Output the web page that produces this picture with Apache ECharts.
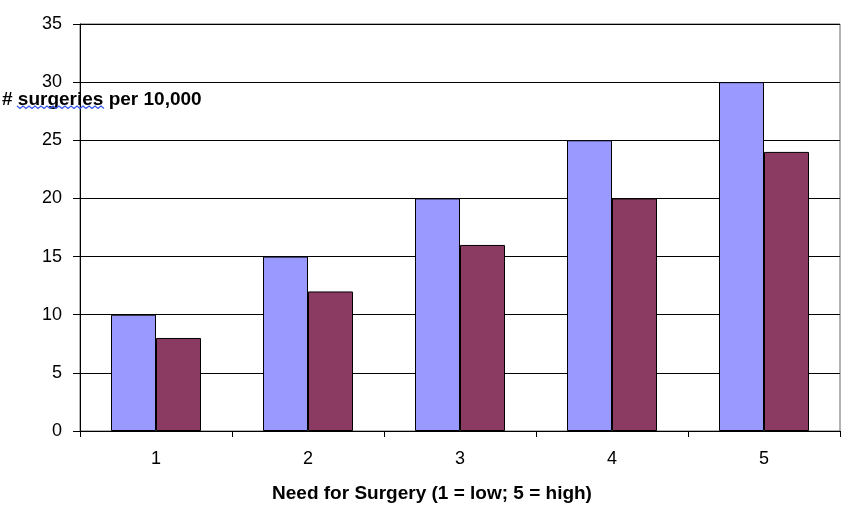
<!DOCTYPE html>
<html>
<head>
<meta charset="utf-8">
<script src="https://cdn.jsdelivr.net/npm/echarts@6/dist/echarts.min.js"></script>
<style>html,body{margin:0;padding:0;background:#fff}#c{width:850px;height:512px}</style>
</head>
<body>
<div id="c"></div>
<script>
var categories = ['1', '2', '3', '4', '5'];
var seriesA = [10, 15, 20, 25, 30];
var seriesB = [8, 12, 16, 20, 24];
var yTicks = { min: 0, max: 35, interval: 5 };

var chart = echarts.init(document.getElementById('c'), null, { renderer: 'canvas' });
var font = 'Liberation Sans, Arial, sans-serif';
chart.setOption({
  animation: false,
  backgroundColor: '#fff',
  title: {
    text: '# surgeries per 10,000',
    left: 2, top: 90, padding: 0,
    textStyle: { fontFamily: font, fontSize: 19, fontWeight: 'bold', color: '#000' }
  },
  grid: { left: 80, right: 10, top: 24, bottom: 81, show: true, borderColor: '#666', borderWidth: 1, backgroundColor: 'transparent', outerBoundsMode: 'none', containLabel: false },
  xAxis: {
    type: 'category',
    data: categories,
    name: 'Need for Surgery (1 = low; 5 = high)',
    nameLocation: 'middle',
    nameGap: 53,
    nameTextStyle: { fontFamily: font, fontSize: 19, fontWeight: 'bold', color: '#000', padding: [0, 56, 0, 0] },
    axisLine: { lineStyle: { color: '#000', width: 1 } },
    axisTick: { show: true, length: 6, interval: 0, alignWithLabel: false, lineStyle: { color: '#000' } },
    axisLabel: { fontFamily: font, fontSize: 18, color: '#000', margin: 19 }
  },
  yAxis: {
    type: 'value',
    min: yTicks.min, max: yTicks.max, interval: yTicks.interval,
    axisLine: { show: true, lineStyle: { color: '#000', width: 1 } },
    axisTick: { show: true, length: 7, lineStyle: { color: '#000' } },
    axisLabel: { fontFamily: font, fontSize: 18, color: '#000', margin: 18 },
    splitLine: { show: true, lineStyle: { color: '#000', width: 1 } }
  },
  series: [
    {
      type: 'bar', data: seriesA, barWidth: 45, barGap: '0%',
      itemStyle: { color: '#9999FF', borderColor: '#000', borderWidth: 1 }
    },
    {
      type: 'bar', data: seriesB, barWidth: 45, barGap: '0%',
      itemStyle: { color: '#8B3A62', borderColor: '#000', borderWidth: 1 }
    }
  ],
  graphic: [
    {
      type: 'polyline', z: 100,
      shape: { points: (function(){ var p=[]; for (var x=17; x<=104; x+=3) p.push([x, (Math.round((x-17)/3)%2===0)?106:108.5]); return p; })() },
      style: { stroke: '#3355ee', lineWidth: 1.2, fill: null }
    }
  ]
});
</script>
</body>
</html>
